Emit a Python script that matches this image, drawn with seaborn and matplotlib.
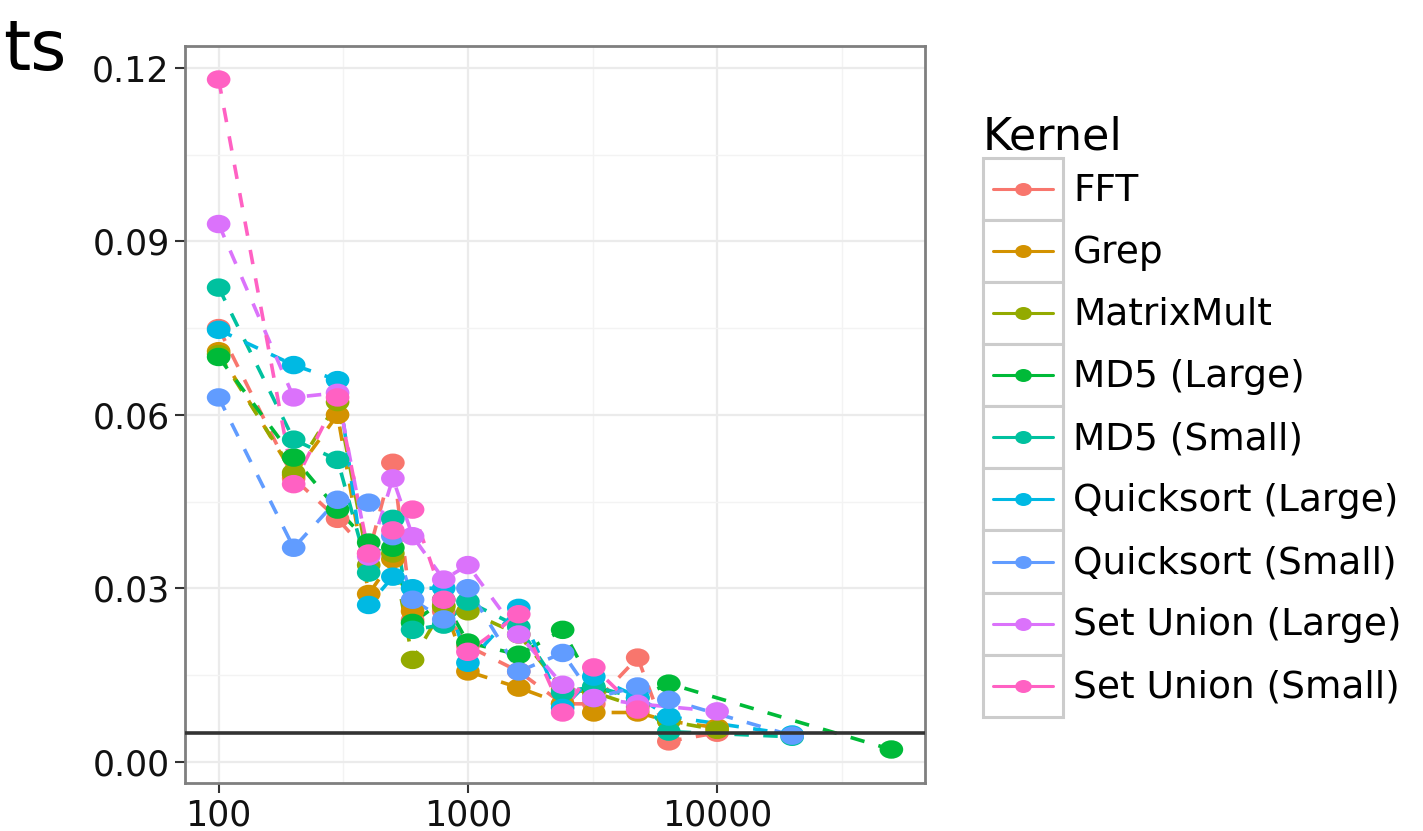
import numpy as np
import pandas as pd
import seaborn as sns
from matplotlib import pyplot as plt
from matplotlib.path import Path
from matplotlib.lines import Line2D
from matplotlib.patches import Rectangle
from matplotlib.legend_handler import HandlerBase
from matplotlib.ticker import FixedLocator, NullFormatter

# problem sizes (x), None = kernel not measured at that size
sizes = [100, 200, 300, 400, 500, 600, 800, 1000, 1600, 2400, 3200, 4800, 6400, 10000, 20000, 50000]

fft = [0.075, 0.049, 0.042, 0.036, 0.0517, 0.0245, 0.026, 0.020, 0.0156, 0.010, 0.010, 0.018, 0.0035, 0.005, None, None]
grep = [0.071, 0.0496, 0.060, 0.029, 0.035, 0.026, 0.027, 0.0156, 0.0128, 0.010, 0.0085, 0.0085, 0.007, 0.0059, None, None]
matrixmult = [0.0705, 0.050, 0.0622, 0.034, 0.036, 0.0176, 0.0268, 0.026, 0.022, 0.0125, 0.012, 0.0095, 0.007, 0.0055, None, None]
md5_large = [0.070, 0.0526, 0.0436, 0.0379, 0.037, 0.024, 0.028, 0.0206, 0.0185, 0.0228, 0.0128, 0.011, 0.0135, None, None, 0.0021]
md5_small = [0.082, 0.0557, 0.0522, 0.0327, 0.042, 0.0228, 0.0237, 0.0277, 0.0233, 0.012, 0.013, 0.011, 0.0052, None, 0.0043, None]
qs_large = [0.0747, 0.0686, 0.066, 0.0271, 0.032, 0.030, 0.030, 0.0171, 0.0266, 0.0093, 0.0147, 0.0112, 0.0078, None, 0.0047, None]
qs_small = [0.063, 0.037, 0.0453, 0.0448, 0.039, 0.028, 0.0246, 0.030, 0.0156, 0.0188, 0.011, 0.013, 0.0107, None, 0.0045, None]
su_large = [0.093, 0.063, 0.0638, 0.0355, 0.049, 0.039, 0.0315, 0.034, 0.022, 0.0133, 0.011, 0.010, None, 0.0087, None, None]
su_small = [0.118, 0.048, 0.063, 0.036, 0.040, 0.0436, 0.028, 0.019, 0.0255, 0.0085, 0.0163, 0.009, None, None, None, None]

kernels = ['FFT', 'Grep', 'MatrixMult', 'MD5 (Large)', 'MD5 (Small)',
           'Quicksort (Large)', 'Quicksort (Small)', 'Set Union (Large)', 'Set Union (Small)']
palette = ['#F8766D', '#D39200', '#93AA00', '#00BA38', '#00C19F',
           '#00B9E3', '#619CFF', '#DB72FB', '#FF61C3']
threshold = 0.005

series = [fft, grep, matrixmult, md5_large, md5_small, qs_large, qs_small, su_large, su_small]
rows = []
for name, vals in zip(kernels, series):
    for s, v in zip(sizes, vals):
        if v is not None:
            rows.append((name, s, v))
df = pd.DataFrame(rows, columns=['Kernel', 'size', 'error'])

sns.set_style('white')
plt.rcParams['font.family'] = ['DejaVu Sans']
plt.rcParams['text.color'] = 'black'

fig = plt.figure(figsize=(14.23, 8.31), dpi=100)
ax = fig.add_axes([185/1423, 48/831, 740/1423, 737/831])
ax.set_xscale('log')

# slightly wide dots, like the stretched original
circ = Path.unit_circle()
ellipse = Path(circ.vertices * [1.0, 0.78], circ.codes)

sns.lineplot(data=df, x='size', y='error', hue='Kernel', hue_order=kernels, palette=palette,
             linestyle=(0, (4, 4)), linewidth=2.6, errorbar=None, legend=False, ax=ax, zorder=2)
sns.scatterplot(data=df, x='size', y='error', hue='Kernel', hue_order=kernels, palette=palette,
                marker=ellipse, s=290, linewidth=0, legend=False, ax=ax, zorder=3)
ax.axhline(threshold, color='#333333', lw=2.6, zorder=4)

# ggplot-like 5% expansion
lx = np.log10(df['size'])
pad = 0.05 * (lx.max() - lx.min())
ax.set_xlim(10 ** (lx.min() - pad), 10 ** (lx.max() + pad))
pad = 0.05 * (df['error'].max() - df['error'].min())
ax.set_ylim(df['error'].min() - pad, df['error'].max() + pad)

ax.set_xticks([100, 1000, 10000])
ax.set_xticklabels(['100', '1000', '10000'])
ax.xaxis.set_minor_locator(FixedLocator([10 ** 2.5, 10 ** 3.5, 10 ** 4.5]))
ax.xaxis.set_minor_formatter(NullFormatter())
ax.set_yticks([0, 0.03, 0.06, 0.09, 0.12])
ax.set_yticklabels(['0.00', '0.03', '0.06', '0.09', '0.12'])
ax.yaxis.set_minor_locator(FixedLocator([0.015, 0.045, 0.075, 0.105]))

ax.grid(which='major', color='#EBEBEB', lw=1.6)
ax.grid(which='minor', color='#F3F3F3', lw=1.0)
ax.set_axisbelow(True)
ax.tick_params(which='major', bottom=True, left=True, length=7, width=1.5, color='#333333',
               labelsize=25, labelcolor='#111111', pad=4)
ax.tick_params(which='minor', length=0)
for sp in ax.spines.values():
    sp.set_color('#7f7f7f')
    sp.set_linewidth(2)
ax.set_xlabel('')
ax.set_ylabel('')


class KeyHandler(HandlerBase):
    # ggplot style legend key: grey box, line with a dot in the middle
    def create_artists(self, legend, orig_handle, xdescent, ydescent, width, height, fontsize, trans):
        c = orig_handle.get_color()
        box = Rectangle((-xdescent, -ydescent), width, height, facecolor='white',
                        edgecolor='#CCCCCC', lw=2.2, transform=trans)
        yc = -ydescent + height / 2
        line = Line2D([-xdescent + 0.12 * width, -xdescent + 0.88 * width], [yc, yc],
                      color=c, lw=2.2, transform=trans)
        dot = Line2D([-xdescent + width / 2], [yc], marker=ellipse, ms=12, mew=0,
                     color=c, linestyle='none', transform=trans)
        return [box, line, dot]


handles = [Line2D([], [], color=c) for c in palette]
fig.legend(handles, kernels, loc='upper left', bbox_to_anchor=(983/1423, 1 - 115/831),
           frameon=False, fontsize=27, title='Kernel', title_fontsize=32, alignment='left',
           handler_map={Line2D: KeyHandler()}, handlelength=2.13, handleheight=2.17,
           labelspacing=0, handletextpad=0.27, borderpad=0, borderaxespad=0)

# cut-off slide title in the corner
fig.text(0.002, 1 - 70/831, 'ts', fontsize=50, va='baseline', ha='left', color='black')

fig.savefig('out.png', dpi=100)
